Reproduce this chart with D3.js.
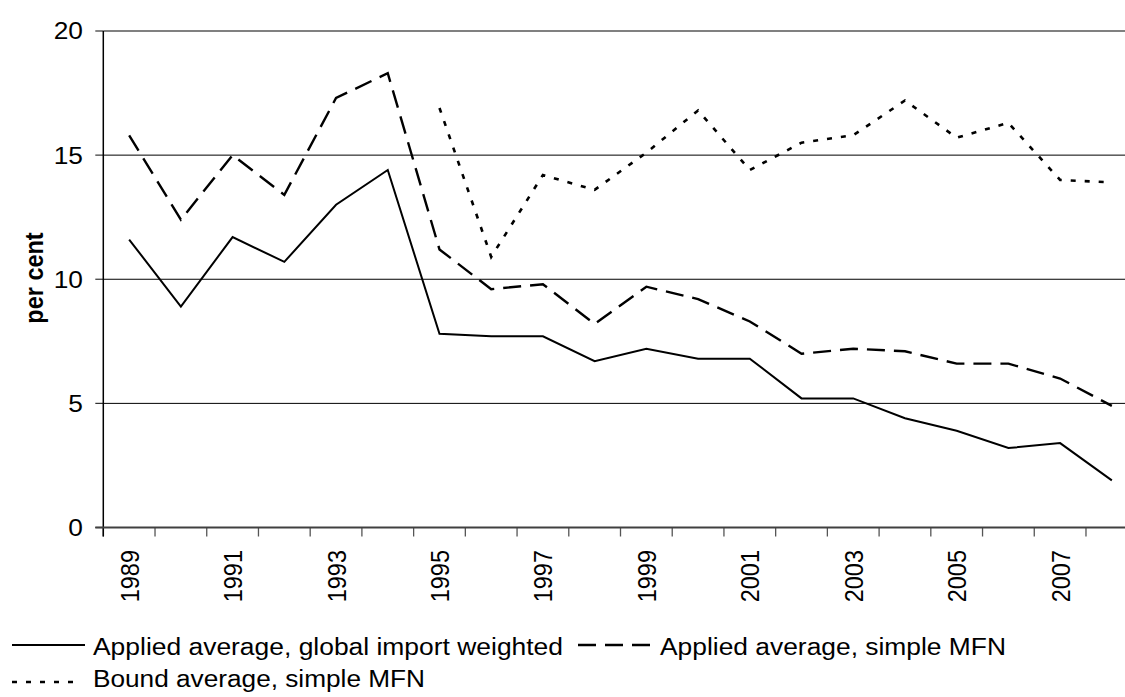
<!DOCTYPE html>
<html>
<head>
<meta charset="utf-8">
<script src="https://cdn.jsdelivr.net/npm/d3@7"></script>
<style>
  html, body { margin: 0; padding: 0; background: #fff; overflow: hidden; }
  svg { display: block; }
  text { font-family: "Liberation Sans", Arial, sans-serif; fill: #000; }
</style>
</head>
<body>
<svg id="chart" width="1125" height="697"></svg>
<script>
// ---- data ----
const years = [1989,1990,1991,1992,1993,1994,1995,1996,1997,1998,1999,2000,2001,2002,2003,2004,2005,2006,2007,2008];
const appliedWeighted = [11.6, 8.9, 11.7, 10.7, 13.0, 14.4, 7.8, 7.7, 7.7, 6.7, 7.2, 6.8, 6.8, 5.2, 5.2, 4.4, 3.9, 3.2, 3.4, 1.9];
const appliedSimple   = [15.8, 12.4, 15.0, 13.4, 17.3, 18.3, 11.2, 9.6, 9.8, 8.2, 9.7, 9.2, 8.3, 7.0, 7.2, 7.1, 6.6, 6.6, 6.0, 4.9];
const boundSimple     = [null, null, null, null, null, null, 16.9, 10.9, 14.2, 13.6, 15.1, 16.8, 14.4, 15.5, 15.8, 17.2, 15.7, 16.3, 14.0, 13.9];
const yTicks = [0, 5, 10, 15, 20];
const xTickLabels = [1989,1991,1993,1995,1997,1999,2001,2003,2005,2007];
const seriesNames = ["Applied average, global import weighted", "Applied average, simple MFN", "Bound average, simple MFN"];
const yTitle = "per cent";

// ---- layout ----
const svg = d3.select("#chart");
const L = 103.3, R = 1137.7, T = 31, B = 527.5;
const FS = 23.5, SX = 1.12;

const x = d3.scaleBand().domain(years).range([L, R]).padding(0);
const y = d3.scaleLinear().domain([0, 20]).range([B, T]);
const cx = d => x(d) + x.bandwidth() / 2;

// gridlines
svg.append("g").selectAll("line").data(yTicks.filter(t => t > 0 && t < 20)).join("line")
  .attr("x1", L).attr("x2", 1125).attr("y1", d => y(d)).attr("y2", d => y(d))
  .attr("stroke", "#000").attr("stroke-width", 1);
// top border
svg.append("line").attr("x1", L).attr("x2", 1125).attr("y1", y(20)).attr("y2", y(20))
  .attr("stroke", "#808080").attr("stroke-width", 2);

// y tick marks
svg.append("g").selectAll("line").data(yTicks).join("line")
  .attr("x1", L - 8).attr("x2", L).attr("y1", d => y(d)).attr("y2", d => y(d))
  .attr("stroke", "#333").attr("stroke-width", 1.2);

// y labels
svg.append("g").selectAll("text").data(yTicks).join("text")
  .attr("transform", d => `translate(83,${y(d)}) scale(${SX},1)`)
  .attr("text-anchor", "end").attr("dy", "0.36em")
  .style("font-size", FS + "px").text(d => d);

// x tick marks at band boundaries
const bounds = years.map(d => x(d)).concat([R]);
svg.append("g").selectAll("line").data(bounds).join("line")
  .attr("x1", d => d).attr("x2", d => d).attr("y1", B).attr("y2", B + 9)
  .attr("stroke", "#555").attr("stroke-width", 1.3);

// left axis
svg.append("line").attr("x1", L).attr("x2", L).attr("y1", T).attr("y2", B + 9)
  .attr("stroke", "#000").attr("stroke-width", 1.5);
// bottom axis
svg.append("line").attr("x1", L - 8).attr("x2", 1125).attr("y1", B).attr("y2", B)
  .attr("stroke", "#404040").attr("stroke-width", 2);

// x labels
svg.append("g").selectAll("text").data(xTickLabels).join("text")
  .attr("transform", d => `translate(${cx(d)},550) scale(${SX},1) rotate(-90)`)
  .attr("text-anchor", "end").attr("dy", "0.36em")
  .style("font-size", FS + "px").text(d => d);

// y title
svg.append("text")
  .attr("transform", `translate(34,278) scale(${SX},1) rotate(-90)`)
  .attr("text-anchor", "middle").attr("dy", "0.36em")
  .style("font-size", FS + "px").style("font-weight", "bold").text(yTitle);

// lines
const styles = [
  { data: appliedWeighted, dash: null, w: 2 },
  { data: appliedSimple, dash: "18,9", w: 2.4 },
  { data: boundSimple, dash: "5,9", w: 2.6 }
];
styles.forEach(s => {
  const line = d3.line()
    .defined(d => d.v !== null)
    .x(d => cx(d.year)).y(d => y(d.v));
  svg.append("path")
    .datum(years.map((yr, i) => ({ year: yr, v: s.data[i] })))
    .attr("d", line)
    .attr("fill", "none").attr("stroke", "#000").attr("stroke-width", s.w)
    .attr("stroke-dasharray", s.dash);
});

// legend
const legend = [
  { x1: 12, x2: 85, tx: 93, ly: 645, by: 655, dash: null, w: 2, name: seriesNames[0], len: 470 },
  { x1: 578, x2: 652, tx: 660, ly: 645, by: 655, dash: "18,9", w: 2.6, name: seriesNames[1], len: 346 },
  { x1: 12, x2: 80, tx: 93, ly: 682, by: 687, dash: "5,9", w: 2.6, name: seriesNames[2], len: 332 }
];
legend.forEach(l => {
  svg.append("line").attr("x1", l.x1).attr("x2", l.x2).attr("y1", l.ly).attr("y2", l.ly)
    .attr("stroke", "#000").attr("stroke-width", l.w).attr("stroke-dasharray", l.dash);
  svg.append("text").attr("x", l.tx).attr("y", l.by)
    .style("font-size", FS + "px")
    .attr("textLength", l.len).attr("lengthAdjust", "spacingAndGlyphs")
    .text(l.name);
});
</script>
</body>
</html>
